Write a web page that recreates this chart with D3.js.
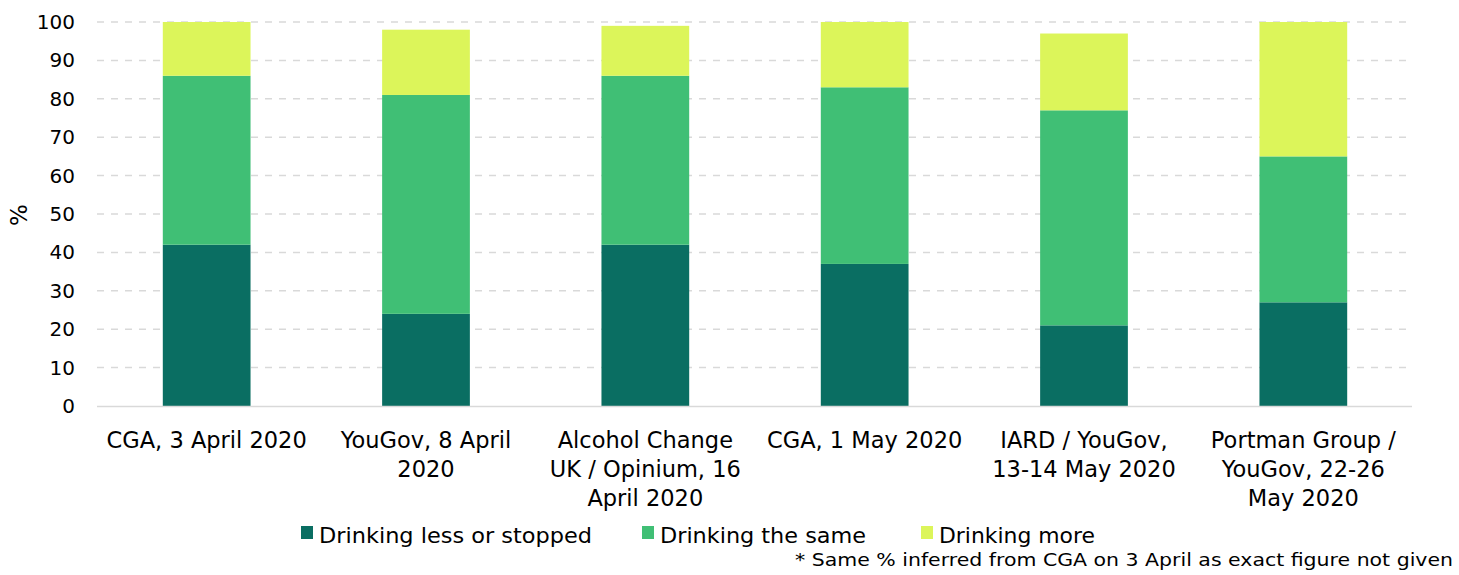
<!DOCTYPE html>
<html>
<head>
<meta charset="utf-8">
<script src="https://cdn.jsdelivr.net/npm/d3@7"></script>
<style>
body { margin: 0; background: #fff; }
svg { display: block; font-family: "DejaVu Sans", sans-serif; }
</style>
</head>
<body>
<svg id="chart" width="1459" height="575"></svg>
<script>
const categories = [
  "CGA, 3 April 2020",
  "YouGov, 8 April 2020",
  "Alcohol Change UK / Opinium, 16 April 2020",
  "CGA, 1 May 2020",
  "IARD / YouGov, 13-14 May 2020",
  "Portman Group / YouGov, 22-26 May 2020"
];
const categoryLines = [
  ["CGA, 3 April 2020"],
  ["YouGov, 8 April", "2020"],
  ["Alcohol Change", "UK / Opinium, 16", "April 2020"],
  ["CGA, 1 May 2020"],
  ["IARD / YouGov,", "13-14 May 2020"],
  ["Portman Group /", "YouGov, 22-26", "May 2020"]
];
const seriesNames = ["Drinking less or stopped", "Drinking the same", "Drinking more"];
const drinkingLess = [42, 24, 42, 37, 21, 27];
const drinkingSame = [44, 57, 44, 46, 56, 38];
const drinkingMore = [14, 17, 13, 17, 20, 35];
const yTicks = [0, 10, 20, 30, 40, 50, 60, 70, 80, 90, 100];
const colors = ["#0a6e62", "#40bf75", "#dcf55a"];
const footnote = "* Same % inferred from CGA on 3 April as exact figure not given";

const svg = d3.select("#chart");
const mLeft = 97, mRight = 1413, mTop = 22, mBottom = 406;

const x = d3.scaleBand().domain(categories).range([mLeft, mRight]).paddingInner(0.6).paddingOuter(0.3);
const y = d3.scaleLinear().domain([0, 100]).range([mBottom, mTop]);

const rows = categories.map((c, i) => ({cat: c, less: drinkingLess[i], same: drinkingSame[i], more: drinkingMore[i]}));
const stack = d3.stack().keys(["less", "same", "more"])(rows);

// gridlines
svg.append("g").selectAll("line").data(yTicks.filter(t => t > 0)).join("line")
  .attr("x1", mLeft).attr("x2", 1410)
  .attr("y1", d => y(d)).attr("y2", d => y(d))
  .attr("stroke", "#d9d9d9").attr("stroke-width", 1.5).attr("stroke-dasharray", "7,7");

// bars
svg.append("g").selectAll("g").data(stack).join("g")
  .attr("fill", (d, i) => colors[i])
  .selectAll("rect").data(d => d).join("rect")
  .attr("x", d => x(d.data.cat))
  .attr("width", x.bandwidth())
  .attr("y", d => y(d[1]))
  .attr("height", d => y(d[0]) - y(d[1]));

// x axis line
svg.append("line").attr("x1", mLeft).attr("x2", 1412).attr("y1", mBottom + 0.5).attr("y2", mBottom + 0.5)
  .attr("stroke", "#d9d9d9").attr("stroke-width", 1.5);

// y axis labels
const yAxis = d3.axisLeft(y).tickValues(yTicks).tickSize(0).tickPadding(0);
const yg = svg.append("g").attr("transform", `translate(75,0)`).call(yAxis);
yg.select(".domain").remove();
yg.selectAll("text").attr("font-size", 20).attr("fill", "#000").attr("font-family", "DejaVu Sans, sans-serif");

// y title
svg.append("text").attr("transform", "translate(27,215) rotate(-90)")
  .attr("text-anchor", "middle").attr("font-size", 23).attr("fill", "#000").text("%");

// x labels
const xl = svg.append("g").selectAll("text").data(categories).join("text")
  .attr("text-anchor", "middle")
  .attr("font-size", 22.5).attr("fill", "#000")
  .attr("x", d => x(d) + x.bandwidth() / 2)
  .attr("y", 448);
xl.selectAll("tspan").data((d, i) => categoryLines[i]).join("tspan")
  .attr("x", function() { return d3.select(this.parentNode).attr("x"); })
  .attr("dy", (d, j) => j === 0 ? 0 : 29)
  .text(d => d);

// legend
const legendX = [301, 642, 921];
const legendW = [273, 206, 156];
const lg = svg.append("g").selectAll("g").data(seriesNames).join("g")
  .attr("transform", (d, i) => `translate(${legendX[i]},0)`);
lg.append("rect").attr("x", 0).attr("y", 526).attr("width", 12).attr("height", 13).attr("fill", (d, i) => colors[i]);
lg.append("text").attr("x", 18).attr("y", 543).attr("font-size", 21).attr("fill", "#000")
  .attr("textLength", (d, i) => legendW[i]).attr("lengthAdjust", "spacingAndGlyphs")
  .text(d => d);

svg.append("text").attr("x", 795).attr("y", 566).attr("font-size", 18).attr("fill", "#000")
  .attr("textLength", 658).attr("lengthAdjust", "spacingAndGlyphs").text(footnote);
</script>
</body>
</html>
